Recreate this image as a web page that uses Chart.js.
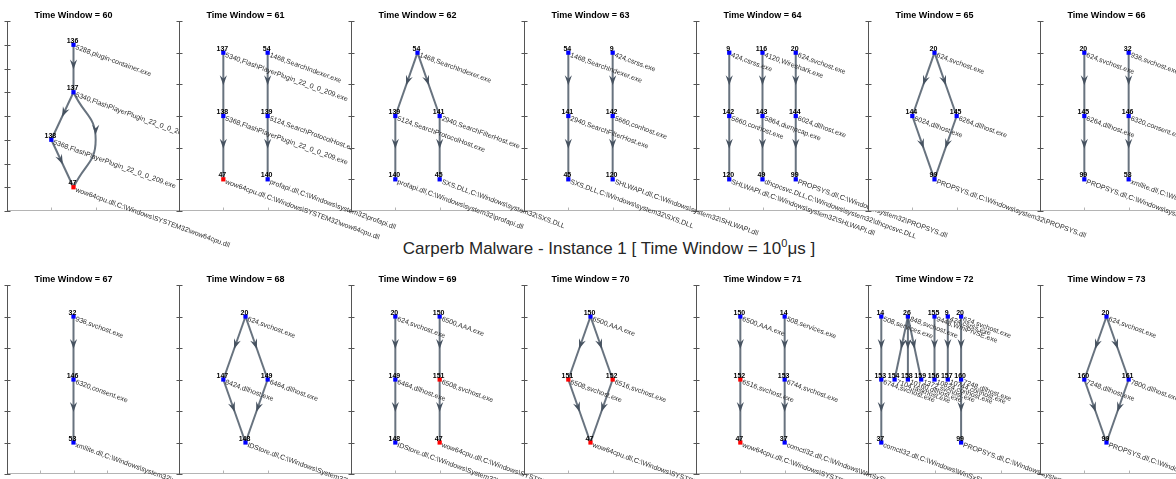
<!DOCTYPE html>
<html>
<head>
<meta charset="utf-8">
<script src="https://cdn.jsdelivr.net/npm/chart.js@4.4.0/dist/chart.umd.min.js"></script>
<style>
  html, body { margin: 0; padding: 0; background: #fff; }
  body { width: 1176px; height: 479px; overflow: hidden; position: relative;
         font-family: "Liberation Sans", Arial, Helvetica, sans-serif; }
  .panel { position: absolute; }
  #mainTitle { position: absolute; left: 309px; top: 240px; width: 600px; text-align: center;
               font-size: 17px; line-height: 17px; color: #262626; white-space: nowrap; }
  #mainTitle sup { font-size: 11px; line-height: 0; vertical-align: 7px; }
</style>
</head>
<body>
<div id="mainTitle">Carperb Malware - Instance 1 [ Time Window = 10<sup>0</sup>μs ]</div>
<script>
// one entry per subplot, in reading order
const windowIds = [60, 61, 62, 63, 64, 65, 66, 67, 68, 69, 70, 71, 72, 73];
const xLimits = [3, 3, 3, 3, 4, 3, 3, 2, 3, 3, 3, 3, 10, 3];
const xTickValues = [[1, 2], [1, 2], [1, 2], [1, 2], [1, 2, 3], [1, 2], [1, 2],
                     [0.5, 1, 1.5], [1, 2], [1, 2], [1, 2], [1, 2], [5, 10], [1, 2]];

const nodeIds = [
  [136, 137, 138, 47],
  [137, 138, 47, 54, 139, 140],
  [54, 139, 141, 140, 45],
  [54, 141, 45, 9, 142, 120],
  [9, 142, 120, 116, 143, 49, 20, 144, 99],
  [20, 144, 145, 99],
  [20, 145, 99, 32, 146, 53],
  [32, 146, 53],
  [20, 147, 149, 148],
  [20, 149, 148, 150, 151, 47],
  [150, 151, 152, 47],
  [150, 152, 47, 14, 153, 37],
  [14, 153, 37, 26, 154, 158, 159, 155, 156, 9, 157, 20, 160, 99],
  [20, 160, 161, 99]
];
const nodeCols = [
  [1.5, 1.5, 1, 1.5],
  [1, 1, 1, 2, 2, 2],
  [1.5, 1, 2, 1, 2],
  [1, 1, 1, 2, 2, 2],
  [1, 1, 1, 2, 2, 2, 3, 3, 3],
  [1.5, 1, 2, 1.5],
  [1, 1, 1, 2, 2, 2],
  [1, 1, 1],
  [1.5, 1, 2, 1.5],
  [1, 1, 1, 2, 2, 2],
  [1.5, 1, 2, 1.5],
  [1, 1, 1, 2, 2, 2],
  [1, 1, 1, 3, 2, 3, 4, 5, 5, 6, 6, 7, 7, 7],
  [1.5, 1, 2, 1.5]
];
const nodeLevels = [
  [1, 2, 3, 4],
  [1, 2, 3, 1, 2, 3],
  [1, 2, 2, 3, 3],
  [1, 2, 3, 1, 2, 3],
  [1, 2, 3, 1, 2, 3, 1, 2, 3],
  [1, 2, 2, 3],
  [1, 2, 3, 1, 2, 3],
  [1, 2, 3],
  [1, 2, 2, 3],
  [1, 2, 3, 1, 2, 3],
  [1, 2, 2, 3],
  [1, 2, 3, 1, 2, 3],
  [1, 2, 3, 1, 2, 2, 2, 1, 2, 1, 2, 1, 2, 3],
  [1, 2, 2, 3]
];
const nodeRed = [
  [0, 0, 0, 1],
  [0, 0, 1, 0, 0, 0],
  [0, 0, 0, 0, 0],
  [0, 0, 0, 0, 0, 0],
  [0, 0, 0, 0, 0, 0, 0, 0, 0],
  [0, 0, 0, 0],
  [0, 0, 0, 0, 0, 0],
  [0, 0, 0],
  [0, 0, 0, 0],
  [0, 0, 0, 0, 1, 1],
  [0, 1, 1, 1],
  [0, 1, 1, 0, 0, 0],
  [0, 0, 0, 0, 0, 0, 0, 0, 0, 0, 0, 0, 0, 0],
  [0, 0, 0, 0]
];

const WOW64 = 'wow64cpu.dll,C:\\Windows\\SYSTEM32\\wow64cpu.dll';
const PROPSYS = 'PROPSYS.dll,C:\\Windows\\system32\\PROPSYS.dll';
const IDSTORE = 'IDStore.dll,C:\\Windows\\System32\\IDStore.dll';
const nodeNames = [
  ['5288,plugin-container.exe', '5340,FlashPlayerPlugin_22_0_0_209.exe', '5368,FlashPlayerPlugin_22_0_0_209.exe', WOW64],
  ['5340,FlashPlayerPlugin_22_0_0_209.exe', '5368,FlashPlayerPlugin_22_0_0_209.exe', WOW64,
   '1468,SearchIndexer.exe', '5124,SearchProtocolHost.exe', 'profapi.dll,C:\\Windows\\system32\\profapi.dll'],
  ['1468,SearchIndexer.exe', '5124,SearchProtocolHost.exe', '2940,SearchFilterHost.exe',
   'profapi.dll,C:\\Windows\\system32\\profapi.dll', 'SXS.DLL,C:\\Windows\\system32\\SXS.DLL'],
  ['1468,SearchIndexer.exe', '2940,SearchFilterHost.exe', 'SXS.DLL,C:\\Windows\\system32\\SXS.DLL',
   '424,csrss.exe', '5660,conhost.exe', 'SHLWAPI.dll,C:\\Windows\\system32\\SHLWAPI.dll'],
  ['424,csrss.exe', '5660,conhost.exe', 'SHLWAPI.dll,C:\\Windows\\system32\\SHLWAPI.dll',
   '4120,Wireshark.exe', '5864,dumpcap.exe', 'dhcpcsvc.DLL,C:\\Windows\\system32\\dhcpcsvc.DLL',
   '624,svchost.exe', '6024,dllhost.exe', PROPSYS],
  ['624,svchost.exe', '6024,dllhost.exe', '6264,dllhost.exe', PROPSYS],
  ['624,svchost.exe', '6264,dllhost.exe', PROPSYS,
   '936,svchost.exe', '6320,consent.exe', 'xmllite.dll,C:\\Windows\\system32\\xmllite.dll'],
  ['936,svchost.exe', '6320,consent.exe', 'xmllite.dll,C:\\Windows\\system32\\xmllite.dll'],
  ['624,svchost.exe', '8424,dllhost.exe', '6464,dllhost.exe', IDSTORE],
  ['624,svchost.exe', '6464,dllhost.exe', IDSTORE, '6500,AAA.exe', '6508,svchost.exe', WOW64],
  ['6500,AAA.exe', '6508,svchost.exe', '6516,svchost.exe', WOW64],
  ['6500,AAA.exe', '6516,svchost.exe', WOW64,
   '508,services.exe', '6744,svchost.exe', 'comctl32.dll,C:\\Windows\\WinSxS\\x86_microsoft.windows.common-controls\\comctl32.dll'],
  ['508,services.exe', '6744,svchost.exe', 'comctl32.dll,C:\\Windows\\WinSxS\\x86_microsoft.windows.common-controls\\comctl32.dll',
   '848,svchost.exe', '7104,taskhost.exe', '10160,dllhost.exe', '1372,svchost.exe',
   '9448,WmiPrvSE.exe', '10824,conhost.exe', '424,csrss.exe', '10744,conhost.exe',
   '624,svchost.exe', '7248,dllhost.exe', PROPSYS],
  ['624,svchost.exe', '7248,dllhost.exe', '7800,dllhost.exe', PROPSYS]
];

// edges as [from, to] node indices within each panel
const edgeList = [
  [[0, 1], [1, 2], [2, 3], [1, 3]],
  [[0, 1], [1, 2], [3, 4], [4, 5]],
  [[0, 1], [0, 2], [1, 3], [2, 4]],
  [[0, 1], [1, 2], [3, 4], [4, 5]],
  [[0, 1], [1, 2], [3, 4], [4, 5], [6, 7], [7, 8]],
  [[0, 1], [0, 2], [1, 3], [2, 3]],
  [[0, 1], [1, 2], [3, 4], [4, 5]],
  [[0, 1], [1, 2]],
  [[0, 1], [0, 2], [1, 3], [2, 3]],
  [[0, 1], [1, 2], [3, 4], [4, 5]],
  [[0, 1], [0, 2], [1, 3], [2, 3]],
  [[0, 1], [1, 2], [3, 4], [4, 5]],
  [[0, 1], [1, 2], [3, 4], [3, 5], [3, 6], [7, 8], [9, 10], [11, 12], [12, 13]],
  [[0, 1], [0, 2], [1, 3], [2, 3]]
];
// edges that skip a layer bend through a dummy point: [panel, from, to, viaX, viaLevel]
const bentEdges = [[0, 1, 3, 2, 3]];

const FONT = '"Liberation Sans", Arial, Helvetica, sans-serif';
const EDGE_COLOR = 'rgba(78, 90, 104, 0.85)';
const BOX_W = 172, PLOT_W = 133;
const PAD_L = 8, PAD_T = 22, PAD_R = 250, PAD_B = 60;

function bendFor(p, from, to) {
  const b = bentEdges.find(e => e[0] === p && e[1] === from && e[2] === to);
  return b ? { x: b[3], y: b[4] } : null;
}

function drawArrow(ctx, x0, y0, x1, y1, mx, my) {
  ctx.save();
  ctx.translate(mx, my);
  ctx.rotate(Math.atan2(y1 - y0, x1 - x0));
  ctx.beginPath();
  ctx.moveTo(1, 0);
  ctx.lineTo(-9, -3.6);
  ctx.lineTo(-5.5, 0);
  ctx.lineTo(-9, 3.6);
  ctx.closePath();
  ctx.fill();
  ctx.restore();
}

const graphDecor = {
  id: 'graphDecor',
  beforeDraw(chart) {
    const { ctx, chartArea: a } = chart;
    ctx.save();
    ctx.fillStyle = '#fff';
    ctx.fillRect(a.left, a.top, a.right - a.left, a.bottom - a.top);
    ctx.restore();
  },
  afterDatasetsDraw(chart, args, opts) {
    const p = opts.panel;
    const { ctx } = chart;
    const xs = chart.scales.x, ys = chart.scales.y;
    const cols = nodeCols[p], lv = nodeLevels[p];
    ctx.save();
    ctx.fillStyle = 'rgb(70, 82, 96)';
    edgeList[p].forEach(([f, t]) => {
      const x0 = xs.getPixelForValue(cols[f]), y0 = ys.getPixelForValue(lv[f]);
      const x1 = xs.getPixelForValue(cols[t]), y1 = ys.getPixelForValue(lv[t]);
      const bend = bendFor(p, f, t);
      if (bend) {
        drawArrow(ctx, x0, y0, x1, y1, xs.getPixelForValue(bend.x), ys.getPixelForValue(bend.y) - 6);
      } else {
        drawArrow(ctx, x0, y0, x1, y1, (x0 + x1) / 2, (y0 + y1) / 2);
      }
    });
    ctx.restore();
  },
  afterDraw(chart, args, opts) {
    const p = opts.panel;
    const { ctx, chartArea: a } = chart;
    const xs = chart.scales.x, ys = chart.scales.y;
    const cols = nodeCols[p], lv = nodeLevels[p];
    ctx.save();

    // axes (left + bottom only)
    const lx = Math.round(a.left) + 0.5, by = Math.round(a.bottom) - 0.5;
    ctx.lineWidth = 1;
    ctx.strokeStyle = '#b4b4b4';
    ctx.beginPath();
    ctx.moveTo(a.left, by); ctx.lineTo(a.right, by);
    xTickValues[p].forEach(v => {
      const px = Math.round(xs.getPixelForValue(v)) + 0.5;
      ctx.moveTo(px, by); ctx.lineTo(px, by - 3);
    });
    ctx.stroke();
    ctx.strokeStyle = '#555';
    ctx.beginPath();
    ctx.moveTo(lx, a.top); ctx.lineTo(lx, a.bottom);
    for (let v = ys.min; v <= ys.max + 1e-9; v += 0.5) {
      const py = Math.round(ys.getPixelForValue(v)) + 0.5;
      ctx.moveTo(lx - 3, py); ctx.lineTo(lx + 3, py);
    }
    ctx.stroke();

    // node ids and rotated names
    nodeIds[p].forEach((id, k) => {
      const px = xs.getPixelForValue(cols[k]), py = ys.getPixelForValue(lv[k]);
      ctx.fillStyle = '#000';
      ctx.font = 'bold 7px ' + FONT;
      ctx.textAlign = 'center';
      ctx.textBaseline = 'alphabetic';
      ctx.fillText(String(id), px - 1, py - 2);

      ctx.save();
      ctx.translate(px + 3, py);
      ctx.rotate(20 * Math.PI / 180);
      ctx.fillStyle = '#2b2b2b';
      ctx.font = '7px ' + FONT;
      ctx.textAlign = 'left';
      ctx.textBaseline = 'top';
      ctx.fillText(nodeNames[p][k], 0, -1);
      ctx.restore();
    });

    // subplot title centred on the plot box
    ctx.fillStyle = '#000';
    ctx.font = 'bold 9px ' + FONT;
    ctx.textAlign = 'center';
    ctx.textBaseline = 'alphabetic';
    ctx.fillText('Time Window = ' + windowIds[p], xs.getPixelForValue(xLimits[p] / 2), a.top - 3);
    ctx.restore();
  }
};

windowIds.forEach((w, p) => {
  const row = p < 7 ? 0 : 1, col = p % 7;
  const boxLeft = Math.round(7 + col * 172.2);
  const boxTop = row === 0 ? 21 : 285;
  const boxH = row === 0 ? 190 : 189;
  const width = PAD_L + BOX_W + PAD_R, height = PAD_T + boxH + PAD_B;

  const holder = document.createElement('div');
  holder.className = 'panel';
  holder.style.left = (boxLeft - PAD_L) + 'px';
  holder.style.top = (boxTop - PAD_T) + 'px';
  holder.style.width = width + 'px';
  holder.style.height = height + 'px';
  const canvas = document.createElement('canvas');
  canvas.width = width;
  canvas.height = height;
  canvas.style.width = width + 'px';
  canvas.style.height = height + 'px';
  holder.appendChild(canvas);
  document.body.appendChild(holder);

  const cols = nodeCols[p], lv = nodeLevels[p];
  const nLevels = Math.max(...lv);

  const edgeSets = edgeList[p].map(([f, t]) => {
    const bend = bendFor(p, f, t);
    const pts = [{ x: cols[f], y: lv[f] }];
    if (bend) pts.push({ x: bend.x, y: bend.y });
    pts.push({ x: cols[t], y: lv[t] });
    return {
      data: pts,
      showLine: true,
      borderColor: EDGE_COLOR,
      borderWidth: 2,
      pointRadius: 0,
      tension: bend ? 0.5 : 0,
      order: 1
    };
  });

  const nodeSet = {
    data: cols.map((c, k) => ({ x: c, y: lv[k] })),
    pointStyle: 'rect',
    pointRadius: 3,
    pointBorderWidth: 0,
    pointBackgroundColor: nodeRed[p].map(r => r ? '#ff0000' : '#0000ff'),
    pointBorderColor: nodeRed[p].map(r => r ? '#ff0000' : '#0000ff'),
    order: 0
  };

  new Chart(canvas, {
    type: 'scatter',
    data: { datasets: [...edgeSets, nodeSet] },
    options: {
      responsive: false,
      animation: false,
      events: [],
      layout: { autoPadding: false, padding: { left: PAD_L, top: PAD_T, right: PAD_R, bottom: PAD_B } },
      scales: {
        x: { type: 'linear', display: false, min: 0, max: xLimits[p] * BOX_W / PLOT_W },
        y: { type: 'linear', display: false, reverse: true, min: 0.5, max: nLevels + 0.5 }
      },
      plugins: {
        legend: { display: false },
        tooltip: { enabled: false },
        graphDecor: { panel: p }
      }
    },
    plugins: [graphDecor]
  });
});
</script>
</body>
</html>
